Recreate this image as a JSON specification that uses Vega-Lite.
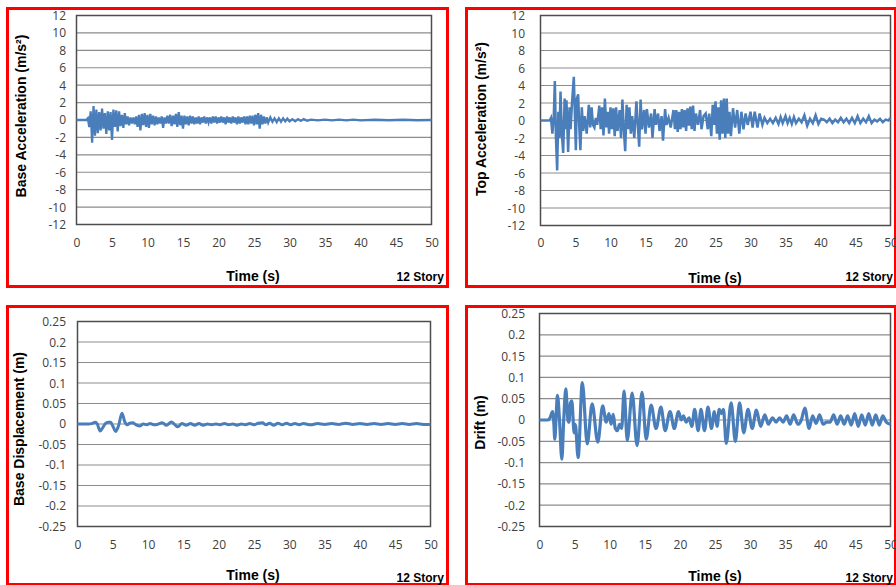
{
  "$schema": "https://vega.github.io/schema/vega-lite/v6.json",
  "background": "white",
  "padding": {"left": 5.5, "top": 6.5, "right": 0, "bottom": 0},
  "datasets": {
    "accGrid": [{"g": -12}, {"g": -10}, {"g": -8}, {"g": -6}, {"g": -4}, {"g": -2}, {"g": 0}, {"g": 2}, {"g": 4}, {"g": 6}, {"g": 8}, {"g": 10}, {"g": 12}],
    "dispGrid": [{"g": -0.25}, {"g": -0.2}, {"g": -0.15}, {"g": -0.1}, {"g": -0.05}, {"g": 0}, {"g": 0.05}, {"g": 0.1}, {"g": 0.15}, {"g": 0.2}, {"g": 0.25}],
    "story": [{"label": "12 Story"}],
    "baseAcc": [
      {"t": 0, "v": 0}, {"t": 1.4, "v": 0}, {"t": 1.6, "v": 0.2}, {"t": 1.8, "v": -0.8}, {"t": 2.0, "v": 1.0}, {"t": 2.2, "v": -2.6}, {"t": 2.4, "v": 1.6}, {"t": 2.6, "v": -1.8}, {"t": 2.8, "v": 1.2}, {"t": 3.0, "v": -1.5}, {"t": 3.2, "v": 0.9}, {"t": 3.4, "v": -1.2}, {"t": 3.6, "v": 1.3}, {"t": 3.8, "v": -1.0}, {"t": 4.0, "v": 0.8}, {"t": 4.2, "v": -1.6}, {"t": 4.4, "v": 1.0}, {"t": 4.6, "v": -1.2}, {"t": 4.8, "v": 0.9}, {"t": 5.0, "v": -2.3}, {"t": 5.2, "v": 1.2}, {"t": 5.4, "v": -0.8}, {"t": 5.6, "v": 1.1}, {"t": 5.8, "v": -1.3}, {"t": 6.0, "v": 1.0}, {"t": 6.2, "v": -0.7}, {"t": 6.4, "v": 0.6}, {"t": 6.6, "v": -0.9}, {"t": 6.8, "v": 0.8}, {"t": 7.0, "v": -0.5}, {"t": 7.2, "v": 0.4}, {"t": 7.4, "v": -0.6}, {"t": 7.6, "v": 0.3}, {"t": 7.8, "v": -0.4}, {"t": 8.0, "v": 0.3}, {"t": 8.2, "v": -0.5}, {"t": 8.4, "v": 0.4}, {"t": 8.6, "v": -0.8}, {"t": 8.8, "v": 0.6}, {"t": 9.0, "v": -1.2}, {"t": 9.2, "v": 0.7}, {"t": 9.4, "v": -0.6}, {"t": 9.6, "v": 0.8}, {"t": 9.8, "v": -0.8}, {"t": 10.0, "v": 0.6}, {"t": 10.2, "v": -0.9}, {"t": 10.4, "v": 0.7}, {"t": 10.6, "v": -0.5}, {"t": 10.8, "v": 0.5}, {"t": 11.0, "v": -0.6}, {"t": 11.2, "v": 0.4}, {"t": 11.4, "v": -0.5}, {"t": 11.6, "v": 0.3}, {"t": 11.8, "v": -0.4}, {"t": 12.0, "v": 0.4}, {"t": 12.2, "v": -0.9}, {"t": 12.4, "v": 0.3}, {"t": 12.6, "v": -0.4}, {"t": 12.8, "v": 0.5}, {"t": 13.0, "v": -0.4}, {"t": 13.2, "v": 0.6}, {"t": 13.4, "v": -0.7}, {"t": 13.6, "v": 0.5}, {"t": 13.8, "v": -0.5}, {"t": 14.0, "v": 0.7}, {"t": 14.2, "v": -0.8}, {"t": 14.4, "v": 0.9}, {"t": 14.6, "v": -0.6}, {"t": 14.8, "v": 0.5}, {"t": 15.0, "v": -1.0}, {"t": 15.2, "v": 0.5}, {"t": 15.4, "v": -0.5}, {"t": 15.6, "v": 0.4}, {"t": 15.8, "v": -0.6}, {"t": 16.0, "v": 0.5}, {"t": 16.2, "v": -0.4}, {"t": 16.4, "v": 0.4}, {"t": 16.6, "v": -0.5}, {"t": 16.8, "v": 0.3}, {"t": 17.0, "v": -0.4}, {"t": 17.2, "v": 0.4}, {"t": 17.4, "v": -0.5}, {"t": 17.6, "v": 0.3}, {"t": 17.8, "v": -0.3}, {"t": 18.0, "v": 0.4}, {"t": 18.2, "v": -0.4}, {"t": 18.4, "v": 0.3}, {"t": 18.6, "v": -0.3}, {"t": 18.8, "v": 0.3}, {"t": 19.0, "v": -0.4}, {"t": 19.2, "v": 0.4}, {"t": 19.4, "v": -0.3}, {"t": 19.6, "v": 0.4}, {"t": 19.8, "v": -0.4}, {"t": 20.0, "v": 0.3}, {"t": 20.2, "v": -0.3}, {"t": 20.4, "v": 0.4}, {"t": 20.6, "v": -0.3}, {"t": 20.8, "v": 0.3}, {"t": 21.0, "v": -0.5}, {"t": 21.2, "v": 0.4}, {"t": 21.4, "v": -0.3}, {"t": 21.6, "v": 0.3}, {"t": 21.8, "v": -0.4}, {"t": 22.0, "v": 0.4}, {"t": 22.2, "v": -0.3}, {"t": 22.4, "v": 0.3}, {"t": 22.6, "v": -0.5}, {"t": 22.8, "v": 0.4}, {"t": 23.0, "v": -0.4}, {"t": 23.2, "v": 0.3}, {"t": 23.4, "v": -0.3}, {"t": 23.6, "v": 0.4}, {"t": 23.8, "v": -0.5}, {"t": 24.0, "v": 0.4}, {"t": 24.2, "v": -0.5}, {"t": 24.4, "v": 0.5}, {"t": 24.6, "v": -0.4}, {"t": 24.8, "v": 0.5}, {"t": 25.0, "v": -0.6}, {"t": 25.2, "v": 0.6}, {"t": 25.4, "v": -0.5}, {"t": 25.6, "v": 0.8}, {"t": 25.8, "v": -1.0}, {"t": 26.0, "v": 0.6}, {"t": 26.2, "v": -0.5}, {"t": 26.4, "v": 0.4}, {"t": 26.6, "v": -0.4}, {"t": 26.8, "v": 0.3}, {"t": 27.0, "v": -0.3}, {"t": 27.3, "v": 0.3}, {"t": 27.6, "v": -0.2}, {"t": 27.9, "v": 0.2}, {"t": 28.2, "v": -0.25}, {"t": 28.5, "v": 0.2}, {"t": 28.8, "v": -0.2}, {"t": 29.1, "v": 0.2}, {"t": 29.4, "v": -0.15}, {"t": 29.7, "v": 0.15}, {"t": 30.0, "v": -0.15}, {"t": 30.4, "v": 0.1}, {"t": 30.8, "v": -0.15}, {"t": 31.2, "v": 0.1}, {"t": 31.6, "v": -0.1}, {"t": 32.0, "v": 0.1}, {"t": 32.5, "v": -0.1}, {"t": 33, "v": 0.05}, {"t": 34, "v": -0.05}, {"t": 35, "v": 0.05}, {"t": 36, "v": -0.05}, {"t": 37, "v": 0.05}, {"t": 38, "v": -0.05}, {"t": 39, "v": 0.05}, {"t": 40, "v": -0.05}, {"t": 42, "v": 0.03}, {"t": 44, "v": -0.03}, {"t": 46, "v": 0.03}, {"t": 48, "v": -0.03}, {"t": 50, "v": 0}
    ],
    "topAcc": [
      {"t": 0, "v": 0}, {"t": 1.3, "v": 0}, {"t": 1.5, "v": 0.3}, {"t": 1.7, "v": -1.5}, {"t": 1.9, "v": 0.5}, {"t": 2.05, "v": 4.5}, {"t": 2.2, "v": -1.8}, {"t": 2.38, "v": -5.7}, {"t": 2.55, "v": 1}, {"t": 2.7, "v": -2}, {"t": 2.86, "v": 3.3}, {"t": 3.05, "v": -1.5}, {"t": 3.24, "v": -3.7}, {"t": 3.45, "v": 2.5}, {"t": 3.6, "v": -1}, {"t": 3.71, "v": 2.3}, {"t": 3.95, "v": -3.6}, {"t": 4.15, "v": 1.5}, {"t": 4.3, "v": -1}, {"t": 4.5, "v": 2}, {"t": 4.76, "v": 5}, {"t": 5.05, "v": -3.4}, {"t": 5.2, "v": 2.5}, {"t": 5.38, "v": 3}, {"t": 5.55, "v": -1}, {"t": 5.7, "v": -3.4}, {"t": 5.9, "v": 1.5}, {"t": 6.1, "v": -1.2}, {"t": 6.3, "v": 0.5}, {"t": 6.6, "v": -1.5}, {"t": 6.9, "v": 1.8}, {"t": 7.1, "v": -0.8}, {"t": 7.3, "v": 1.5}, {"t": 7.5, "v": -0.5}, {"t": 7.7, "v": -0.8}, {"t": 7.9, "v": 0.3}, {"t": 8.1, "v": -0.5}, {"t": 8.4, "v": 1.7}, {"t": 8.6, "v": -1}, {"t": 8.8, "v": 1.5}, {"t": 9.0, "v": -1.7}, {"t": 9.2, "v": 2.5}, {"t": 9.4, "v": -0.8}, {"t": 9.6, "v": 1}, {"t": 9.8, "v": -1.5}, {"t": 10.0, "v": 1.5}, {"t": 10.2, "v": -1}, {"t": 10.4, "v": 1.4}, {"t": 10.6, "v": -1.8}, {"t": 10.8, "v": 1.5}, {"t": 11.0, "v": -1.2}, {"t": 11.3, "v": 1.2}, {"t": 11.5, "v": -2}, {"t": 11.7, "v": 2.4}, {"t": 11.9, "v": -1}, {"t": 12.1, "v": -3.5}, {"t": 12.3, "v": 1.8}, {"t": 12.5, "v": -1}, {"t": 12.7, "v": 1.5}, {"t": 12.9, "v": -1.5}, {"t": 13.1, "v": 0.5}, {"t": 13.4, "v": -2}, {"t": 13.7, "v": 2.2}, {"t": 13.9, "v": -0.5}, {"t": 14.1, "v": -3}, {"t": 14.3, "v": 2.4}, {"t": 14.5, "v": -1}, {"t": 14.8, "v": 1.2}, {"t": 15.0, "v": -1.5}, {"t": 15.2, "v": 1.3}, {"t": 15.5, "v": -0.8}, {"t": 15.8, "v": 0.8}, {"t": 16.0, "v": -2}, {"t": 16.3, "v": 1.3}, {"t": 16.5, "v": -0.5}, {"t": 16.8, "v": 0.8}, {"t": 17.0, "v": -1.2}, {"t": 17.3, "v": 0.5}, {"t": 17.5, "v": -2.3}, {"t": 17.8, "v": 1.3}, {"t": 18.0, "v": -0.5}, {"t": 18.3, "v": 0.3}, {"t": 18.6, "v": -0.8}, {"t": 18.8, "v": 0.2}, {"t": 19.0, "v": 1.2}, {"t": 19.2, "v": -1}, {"t": 19.4, "v": 1.2}, {"t": 19.6, "v": -1.3}, {"t": 19.8, "v": 1}, {"t": 20.0, "v": -1}, {"t": 20.2, "v": 1.3}, {"t": 20.4, "v": -0.8}, {"t": 20.6, "v": 1.2}, {"t": 20.8, "v": -1.2}, {"t": 21.0, "v": 1.4}, {"t": 21.2, "v": -0.6}, {"t": 21.4, "v": 1.6}, {"t": 21.6, "v": -1}, {"t": 21.8, "v": 1.7}, {"t": 22.0, "v": -1.2}, {"t": 22.2, "v": 0.8}, {"t": 22.5, "v": -0.5}, {"t": 22.8, "v": 1.2}, {"t": 23.0, "v": -1}, {"t": 23.3, "v": 0.5}, {"t": 23.6, "v": 0.8}, {"t": 23.9, "v": -1}, {"t": 24.1, "v": 0.8}, {"t": 24.4, "v": -1.8}, {"t": 24.6, "v": 1.8}, {"t": 24.8, "v": -0.5}, {"t": 25.0, "v": 2.2}, {"t": 25.2, "v": -1.5}, {"t": 25.4, "v": 1.5}, {"t": 25.6, "v": -2.2}, {"t": 25.8, "v": 2.3}, {"t": 26.0, "v": -1.5}, {"t": 26.2, "v": 2.5}, {"t": 26.4, "v": -2}, {"t": 26.6, "v": 2.5}, {"t": 26.8, "v": -1.5}, {"t": 27.0, "v": 1}, {"t": 27.2, "v": -1.8}, {"t": 27.5, "v": 1.4}, {"t": 27.8, "v": -0.8}, {"t": 28.1, "v": 1.2}, {"t": 28.4, "v": -1.5}, {"t": 28.7, "v": 1}, {"t": 29.0, "v": -1}, {"t": 29.3, "v": 0.8}, {"t": 29.6, "v": -0.5}, {"t": 30.0, "v": 1}, {"t": 30.3, "v": -0.8}, {"t": 30.6, "v": 1}, {"t": 31.0, "v": -0.8}, {"t": 31.3, "v": 0.8}, {"t": 31.7, "v": -0.5}, {"t": 32.0, "v": 0.3}, {"t": 32.4, "v": -0.3}, {"t": 32.8, "v": 0.2}, {"t": 33.2, "v": -0.3}, {"t": 33.6, "v": 0.3}, {"t": 34.0, "v": -0.4}, {"t": 34.3, "v": 0.4}, {"t": 34.6, "v": -0.3}, {"t": 35.0, "v": 0.5}, {"t": 35.3, "v": -0.3}, {"t": 35.6, "v": 0.3}, {"t": 35.9, "v": -0.4}, {"t": 36.2, "v": 0.4}, {"t": 36.5, "v": -0.3}, {"t": 36.9, "v": 0.2}, {"t": 37.3, "v": -0.2}, {"t": 37.7, "v": 0.6}, {"t": 38.1, "v": -0.6}, {"t": 38.5, "v": 0.2}, {"t": 38.9, "v": -0.3}, {"t": 39.3, "v": 0.6}, {"t": 39.7, "v": -0.4}, {"t": 40.1, "v": 0.2}, {"t": 40.5, "v": 0.1}, {"t": 40.9, "v": -0.2}, {"t": 41.3, "v": 0.2}, {"t": 41.7, "v": -0.3}, {"t": 42.1, "v": 0.1}, {"t": 42.5, "v": -0.2}, {"t": 42.9, "v": 0.3}, {"t": 43.3, "v": -0.2}, {"t": 43.7, "v": 0.2}, {"t": 44.1, "v": -0.3}, {"t": 44.5, "v": 0.3}, {"t": 44.9, "v": -0.3}, {"t": 45.3, "v": 0.5}, {"t": 45.7, "v": -0.3}, {"t": 46.1, "v": 0.2}, {"t": 46.5, "v": -0.2}, {"t": 46.9, "v": 0.5}, {"t": 47.3, "v": -0.3}, {"t": 47.7, "v": 0.1}, {"t": 48.1, "v": -0.1}, {"t": 48.5, "v": 0.2}, {"t": 48.9, "v": -0.2}, {"t": 49.3, "v": 0.1}, {"t": 49.7, "v": 0}, {"t": 50, "v": 0.3}
    ],
    "baseDisp": [
      {"t": 0, "v": 0}, {"t": 1.6, "v": 0}, {"t": 2.0, "v": 0.001}, {"t": 2.5, "v": 0.004}, {"t": 2.8, "v": 0}, {"t": 3.2, "v": -0.017}, {"t": 3.6, "v": -0.008}, {"t": 4.0, "v": 0.002}, {"t": 4.4, "v": 0.004}, {"t": 4.7, "v": 0.004}, {"t": 5.0, "v": -0.005}, {"t": 5.4, "v": -0.018}, {"t": 5.8, "v": -0.005}, {"t": 6.3, "v": 0.026}, {"t": 6.7, "v": 0.005}, {"t": 7.0, "v": -0.002}, {"t": 7.4, "v": 0.002}, {"t": 7.8, "v": 0.003}, {"t": 8.3, "v": -0.002}, {"t": 8.8, "v": -0.005}, {"t": 9.3, "v": 0}, {"t": 9.8, "v": -0.002}, {"t": 10.3, "v": 0.001}, {"t": 10.8, "v": -0.002}, {"t": 11.3, "v": -0.001}, {"t": 12.0, "v": 0.003}, {"t": 12.6, "v": -0.003}, {"t": 13.3, "v": 0.005}, {"t": 13.8, "v": -0.002}, {"t": 14.2, "v": -0.007}, {"t": 14.8, "v": 0.001}, {"t": 15.4, "v": -0.003}, {"t": 16, "v": 0.001}, {"t": 16.6, "v": -0.003}, {"t": 17.2, "v": 0.001}, {"t": 17.8, "v": -0.003}, {"t": 18.4, "v": 0}, {"t": 19, "v": -0.002}, {"t": 19.6, "v": 0}, {"t": 20.2, "v": -0.002}, {"t": 20.8, "v": 0.001}, {"t": 21.4, "v": -0.002}, {"t": 22, "v": 0}, {"t": 22.6, "v": -0.003}, {"t": 23.2, "v": 0}, {"t": 23.8, "v": -0.002}, {"t": 24.4, "v": 0.001}, {"t": 25, "v": -0.002}, {"t": 25.6, "v": 0.002}, {"t": 26.2, "v": 0.003}, {"t": 26.7, "v": -0.002}, {"t": 27.2, "v": 0.002}, {"t": 27.8, "v": -0.003}, {"t": 28.4, "v": 0.002}, {"t": 29, "v": -0.002}, {"t": 29.6, "v": 0.002}, {"t": 30.2, "v": -0.002}, {"t": 30.8, "v": 0.001}, {"t": 31.4, "v": -0.002}, {"t": 32, "v": 0.001}, {"t": 33, "v": -0.002}, {"t": 34, "v": 0.001}, {"t": 35, "v": -0.001}, {"t": 36, "v": 0.001}, {"t": 37, "v": -0.001}, {"t": 38, "v": 0.002}, {"t": 39, "v": -0.001}, {"t": 40, "v": 0.001}, {"t": 41, "v": -0.001}, {"t": 42, "v": 0.001}, {"t": 43, "v": -0.001}, {"t": 44, "v": 0.001}, {"t": 45, "v": -0.001}, {"t": 46, "v": 0.001}, {"t": 47, "v": -0.001}, {"t": 48, "v": 0.001}, {"t": 49, "v": -0.001}, {"t": 50, "v": -0.001}
    ],
    "drift": [
      {"t": 0, "v": 0}, {"t": 1.2, "v": 0}, {"t": 1.5, "v": 0.005}, {"t": 1.85, "v": 0.02}, {"t": 2.05, "v": -0.01}, {"t": 2.18, "v": -0.045}, {"t": 2.4, "v": 0.02}, {"t": 2.56, "v": 0.058}, {"t": 2.85, "v": 0.0}, {"t": 3.18, "v": -0.092}, {"t": 3.45, "v": 0.0}, {"t": 3.75, "v": 0.073}, {"t": 4.05, "v": 0.0}, {"t": 4.2, "v": -0.005}, {"t": 4.4, "v": 0.04}, {"t": 4.6, "v": 0.045}, {"t": 4.94, "v": -0.03}, {"t": 5.1, "v": -0.01}, {"t": 5.5, "v": -0.088}, {"t": 6.1, "v": 0.088}, {"t": 6.8, "v": -0.056}, {"t": 7.5, "v": 0.038}, {"t": 8.3, "v": -0.052}, {"t": 9.0, "v": 0.033}, {"t": 9.5, "v": -0.005}, {"t": 9.9, "v": 0.015}, {"t": 10.2, "v": -0.01}, {"t": 10.5, "v": 0.013}, {"t": 10.8, "v": -0.02}, {"t": 11.1, "v": -0.025}, {"t": 11.4, "v": -0.01}, {"t": 11.7, "v": -0.02}, {"t": 12.05, "v": 0.068}, {"t": 12.5, "v": -0.048}, {"t": 13.2, "v": 0.063}, {"t": 13.9, "v": -0.06}, {"t": 14.6, "v": 0.065}, {"t": 15.2, "v": -0.045}, {"t": 15.9, "v": 0.035}, {"t": 16.6, "v": -0.02}, {"t": 17.3, "v": 0.03}, {"t": 17.9, "v": -0.025}, {"t": 18.6, "v": 0.02}, {"t": 19.2, "v": -0.02}, {"t": 19.8, "v": 0.02}, {"t": 20.2, "v": 0.0}, {"t": 20.5, "v": 0.01}, {"t": 20.9, "v": -0.005}, {"t": 21.3, "v": 0.005}, {"t": 21.7, "v": -0.015}, {"t": 22.1, "v": 0.025}, {"t": 22.6, "v": -0.025}, {"t": 23.0, "v": 0.025}, {"t": 23.5, "v": -0.025}, {"t": 24.0, "v": 0.03}, {"t": 24.5, "v": -0.02}, {"t": 24.9, "v": 0.02}, {"t": 25.3, "v": -0.015}, {"t": 25.6, "v": 0.025}, {"t": 25.9, "v": 0.015}, {"t": 26.2, "v": 0.025}, {"t": 26.6, "v": -0.055}, {"t": 27.3, "v": 0.04}, {"t": 27.9, "v": -0.05}, {"t": 28.5, "v": 0.04}, {"t": 29.1, "v": -0.03}, {"t": 29.7, "v": 0.025}, {"t": 30.3, "v": -0.02}, {"t": 30.9, "v": 0.023}, {"t": 31.5, "v": -0.015}, {"t": 32.1, "v": 0.012}, {"t": 32.6, "v": -0.01}, {"t": 33.2, "v": 0.005}, {"t": 33.7, "v": -0.005}, {"t": 34.2, "v": 0.005}, {"t": 34.7, "v": -0.005}, {"t": 35.2, "v": 0.01}, {"t": 35.7, "v": -0.01}, {"t": 36.2, "v": 0.012}, {"t": 36.8, "v": -0.01}, {"t": 37.3, "v": 0.0}, {"t": 37.8, "v": 0.028}, {"t": 38.4, "v": -0.02}, {"t": 38.9, "v": 0.01}, {"t": 39.4, "v": -0.008}, {"t": 39.9, "v": 0.012}, {"t": 40.4, "v": -0.01}, {"t": 40.9, "v": -0.005}, {"t": 41.4, "v": -0.005}, {"t": 41.9, "v": 0.012}, {"t": 42.4, "v": -0.01}, {"t": 42.9, "v": 0.01}, {"t": 43.4, "v": -0.01}, {"t": 43.9, "v": 0.01}, {"t": 44.4, "v": -0.012}, {"t": 44.9, "v": 0.015}, {"t": 45.4, "v": -0.015}, {"t": 45.9, "v": 0.012}, {"t": 46.4, "v": -0.012}, {"t": 46.9, "v": 0.015}, {"t": 47.4, "v": -0.012}, {"t": 47.9, "v": 0.012}, {"t": 48.4, "v": -0.012}, {"t": 48.9, "v": 0.01}, {"t": 49.4, "v": -0.005}, {"t": 50, "v": -0.01}
    ]
  },
  "vconcat": [
    {
      "hconcat": [
        {
          "width": 440, "height": 278,
          "layer": [
            {"data": {"name": "accGrid"}, "mark": {"type": "rule", "color": "#8c8c8c", "strokeWidth": 1.2},
             "encoding": {"y": {"field": "g", "type": "quantitative", "axis": {"tickCount": 30}}, "x": {"datum": 0, "type": "quantitative", "axis": {"tickCount": 30}}, "x2": {"datum": 50}}},
            {"data": {"name": "story"}, "mark": {"type": "rect", "filled": false, "stroke": "#4d4d4d", "strokeWidth": 1.5},
             "encoding": {"x": {"datum": 0, "type": "quantitative"}, "x2": {"datum": 50}, "y": {"datum": -12, "type": "quantitative"}, "y2": {"datum": 12}}},
            {"data": {"name": "baseAcc"}, "mark": {"type": "line", "color": "#4a7ebb", "strokeWidth": 2.3},
             "encoding": {"x": {"field": "t", "type": "quantitative", "scale": {"domain": [-9.718, 52.254], "nice": false, "zero": false},
                                "axis": {"title": "Time (s)", "values": [0, 5, 10, 15, 20, 25, 30, 35, 40, 45, 50], "tickCount": 30, "offset": -62, "domain": false, "ticks": false, "grid": false, "labelPadding": 18, "labelBaseline": "middle", "labelFlush": false, "labelOverlap": false, "titleX": 245, "titleY": 52, "titleBaseline": "middle", "titleAlign": "center"}},
                          "y": {"field": "v", "type": "quantitative", "scale": {"domain": [-19.12, 12.804], "nice": false, "zero": false},
                                "axis": {"title": "Base Acceleration (m/s²)", "values": [-12, -10, -8, -6, -4, -2, 0, 2, 4, 6, 8, 10, 12], "tickCount": 30, "labelExpr": "'' + datum.value", "offset": -60, "domain": false, "ticks": false, "grid": false, "labelPadding": 2, "labelOverlap": false, "titleX": -46, "titleY": 107, "titleAngle": -90, "titleBaseline": "middle", "titleAlign": "center"}}}},
            {"data": {"name": "story"}, "mark": {"type": "text", "align": "left", "baseline": "alphabetic", "dx": -35, "dy": 56.5, "font": "Liberation Sans", "fontWeight": "bold", "fontSize": 12, "color": "#000"},
             "encoding": {"text": {"field": "label"}, "x": {"datum": 50, "type": "quantitative"}, "y": {"datum": -12, "type": "quantitative"}}}
          ]
        },
        {
          "width": 429, "height": 278,
          "layer": [
            {"data": {"name": "accGrid"}, "mark": {"type": "rule", "color": "#8c8c8c", "strokeWidth": 1.2},
             "encoding": {"y": {"field": "g", "type": "quantitative", "axis": {"tickCount": 30}}, "x": {"datum": 0, "type": "quantitative", "axis": {"tickCount": 30}}, "x2": {"datum": 50}}},
            {"data": {"name": "story"}, "mark": {"type": "rect", "filled": false, "stroke": "#4d4d4d", "strokeWidth": 1.5},
             "encoding": {"x": {"datum": 0, "type": "quantitative"}, "x2": {"datum": 50}, "y": {"datum": -12, "type": "quantitative"}, "y2": {"datum": 12}}},
            {"data": {"name": "topAcc"}, "mark": {"type": "line", "color": "#4a7ebb", "strokeWidth": 2.5},
             "encoding": {"x": {"field": "t", "type": "quantitative", "scale": {"domain": [-10.571, 50.714], "nice": false, "zero": false},
                                "axis": {"title": "Time (s)", "values": [0, 5, 10, 15, 20, 25, 30, 35, 40, 45, 50], "tickCount": 30, "offset": -61, "domain": false, "ticks": false, "grid": false, "labelPadding": 17, "labelBaseline": "middle", "labelFlush": false, "labelOverlap": false, "titleX": 248, "titleY": 53, "titleBaseline": "middle", "titleAlign": "center"}},
                          "y": {"field": "v", "type": "quantitative", "scale": {"domain": [-18.971, 12.8], "nice": false, "zero": false},
                                "axis": {"title": "Top Acceleration (m/s²)", "values": [-12, -10, -8, -6, -4, -2, 0, 2, 4, 6, 8, 10, 12], "tickCount": 30, "labelExpr": "'' + datum.value", "offset": -60, "domain": false, "ticks": false, "grid": false, "labelPadding": 2, "labelOverlap": false, "titleX": -45, "titleY": 110, "titleAngle": -90, "titleBaseline": "middle", "titleAlign": "center"}}}},
            {"data": {"name": "story"}, "mark": {"type": "text", "align": "left", "baseline": "alphabetic", "dx": -45, "dy": 55.7, "font": "Liberation Sans", "fontWeight": "bold", "fontSize": 12, "color": "#000"},
             "encoding": {"text": {"field": "label"}, "x": {"datum": 50, "type": "quantitative"}, "y": {"datum": -12, "type": "quantitative"}}}
          ]
        }
      ],
      "spacing": 15
    },
    {
      "hconcat": [
        {
          "width": 440, "height": 278,
          "layer": [
            {"data": {"name": "dispGrid"}, "mark": {"type": "rule", "color": "#8c8c8c", "strokeWidth": 1.2},
             "encoding": {"y": {"field": "g", "type": "quantitative", "axis": {"tickCount": 30}}, "x": {"datum": 0, "type": "quantitative", "axis": {"tickCount": 30}}, "x2": {"datum": 50}}},
            {"data": {"name": "story"}, "mark": {"type": "rect", "filled": false, "stroke": "#4d4d4d", "strokeWidth": 1.5},
             "encoding": {"x": {"datum": 0, "type": "quantitative"}, "x2": {"datum": 50}, "y": {"datum": -0.25, "type": "quantitative"}, "y2": {"datum": 0.25}}},
            {"data": {"name": "baseDisp"}, "mark": {"type": "line", "color": "#4a7ebb", "strokeWidth": 3, "interpolate": "monotone"},
             "encoding": {"x": {"field": "t", "type": "quantitative", "scale": {"domain": [-9.915, 52.408], "nice": false, "zero": false},
                                "axis": {"title": "Time (s)", "values": [0, 5, 10, 15, 20, 25, 30, 35, 40, 45, 50], "tickCount": 30, "offset": -58, "domain": false, "ticks": false, "grid": false, "labelPadding": 18, "labelBaseline": "middle", "labelFlush": false, "labelOverlap": false, "titleX": 245, "titleY": 49, "titleBaseline": "middle", "titleAlign": "center"}},
                          "y": {"field": "v", "type": "quantitative", "scale": {"domain": [-0.3915, 0.2866], "nice": false, "zero": false},
                                "axis": {"title": "Base Displacement (m)", "values": [-0.25, -0.2, -0.15, -0.1, -0.05, 0, 0.05, 0.1, 0.15, 0.2, 0.25], "tickCount": 30, "labelExpr": "'' + datum.value", "offset": -60, "domain": false, "ticks": false, "grid": false, "labelPadding": 2, "labelOverlap": false, "titleX": -48, "titleY": 122, "titleAngle": -90, "titleBaseline": "middle", "titleAlign": "center"}}}},
            {"data": {"name": "story"}, "mark": {"type": "text", "align": "left", "baseline": "alphabetic", "dx": -34, "dy": 56, "font": "Liberation Sans", "fontWeight": "bold", "fontSize": 12, "color": "#000"},
             "encoding": {"text": {"field": "label"}, "x": {"datum": 50, "type": "quantitative"}, "y": {"datum": -0.25, "type": "quantitative"}}}
          ]
        },
        {
          "width": 429, "height": 278,
          "layer": [
            {"data": {"name": "dispGrid"}, "mark": {"type": "rule", "color": "#8c8c8c", "strokeWidth": 1.2},
             "encoding": {"y": {"field": "g", "type": "quantitative", "axis": {"tickCount": 30}}, "x": {"datum": 0, "type": "quantitative", "axis": {"tickCount": 30}}, "x2": {"datum": 50}}},
            {"data": {"name": "story"}, "mark": {"type": "rect", "filled": false, "stroke": "#4d4d4d", "strokeWidth": 1.5},
             "encoding": {"x": {"datum": 0, "type": "quantitative"}, "x2": {"datum": 50}, "y": {"datum": -0.25, "type": "quantitative"}, "y2": {"datum": 0.25}}},
            {"data": {"name": "drift"}, "mark": {"type": "line", "color": "#4a7ebb", "strokeWidth": 3.2, "interpolate": "monotone"},
             "encoding": {"x": {"field": "t", "type": "quantitative", "scale": {"domain": [-10.399, 50.712], "nice": false, "zero": false},
                                "axis": {"title": "Time (s)", "values": [0, 5, 10, 15, 20, 25, 30, 35, 40, 45, 50], "tickCount": 30, "offset": -58, "domain": false, "ticks": false, "grid": false, "labelPadding": 18, "labelBaseline": "middle", "labelFlush": false, "labelOverlap": false, "titleX": 248, "titleY": 50, "titleBaseline": "middle", "titleAlign": "center"}},
                          "y": {"field": "v", "type": "quantitative", "scale": {"domain": [-0.38615, 0.26643], "nice": false, "zero": false},
                                "axis": {"title": "Drift (m)", "values": [-0.25, -0.2, -0.15, -0.1, -0.05, 0, 0.05, 0.1, 0.15, 0.2, 0.25], "tickCount": 30, "labelExpr": "'' + datum.value", "offset": -60, "domain": false, "ticks": false, "grid": false, "labelPadding": 2, "labelOverlap": false, "titleX": -46.5, "titleY": 115.5, "titleAngle": -90, "titleBaseline": "middle", "titleAlign": "center"}}}},
            {"data": {"name": "story"}, "mark": {"type": "text", "align": "left", "baseline": "alphabetic", "dx": -45, "dy": 56, "font": "Liberation Sans", "fontWeight": "bold", "fontSize": 12, "color": "#000"},
             "encoding": {"text": {"field": "label"}, "x": {"datum": 50, "type": "quantitative"}, "y": {"datum": -0.25, "type": "quantitative"}}}
          ]
        }
      ],
      "spacing": 15
    }
  ],
  "spacing": 16,
  "config": {
    "view": {"stroke": "#ff0000", "strokeWidth": 3, "fill": "white"},
    "axis": {"labelFont": "Open Sans", "labelFontSize": 12, "labelColor": "#404040", "labelOverlap": false, "tickCount": 30, "titleFont": "Liberation Sans", "titleFontSize": 14, "titleFontWeight": "bold", "titleColor": "#000000"}
  }
}
